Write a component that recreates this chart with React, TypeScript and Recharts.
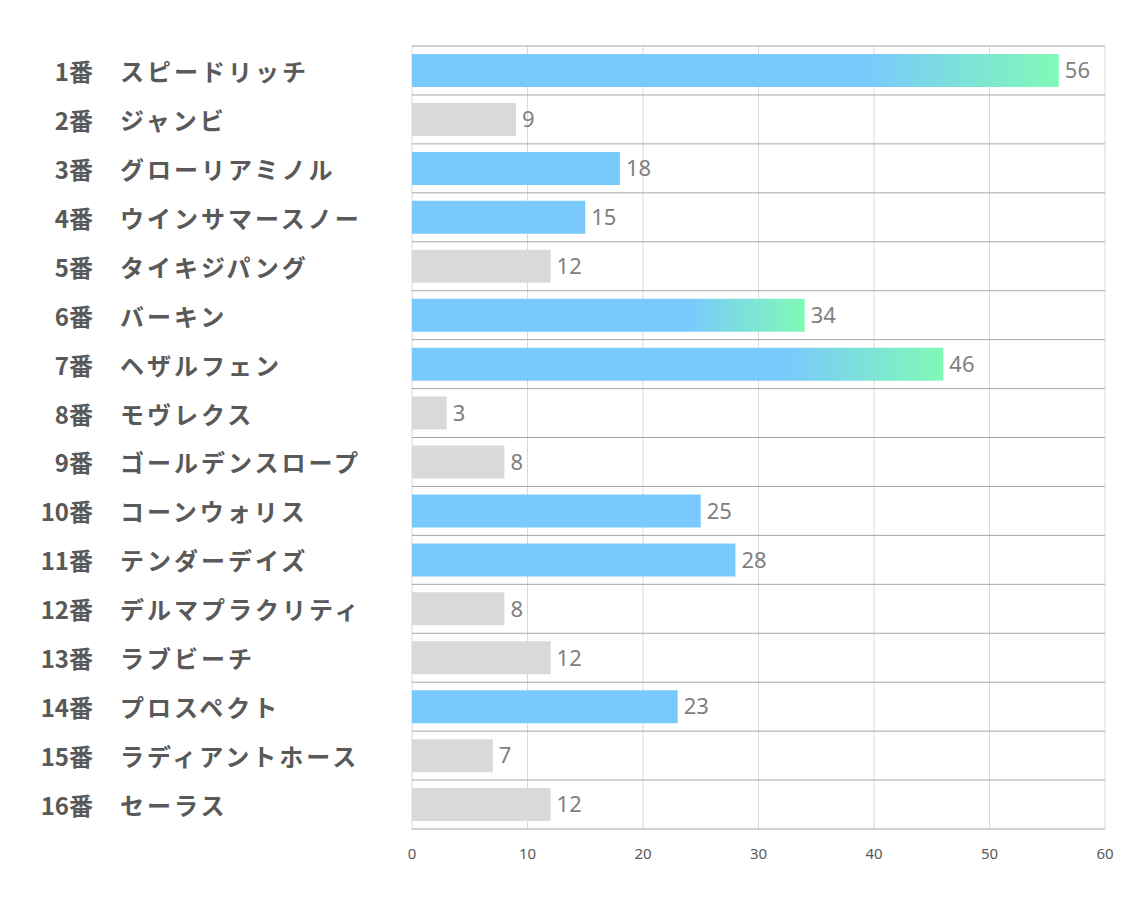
import React from 'react';
import { BarChart, Bar, XAxis, YAxis, CartesianGrid, Cell, LabelList } from 'recharts';

const numbers = ['1番', '2番', '3番', '4番', '5番', '6番', '7番', '8番', '9番', '10番', '11番', '12番', '13番', '14番', '15番', '16番'];
const horses = ['スピードリッチ', 'ジャンビ', 'グローリアミノル', 'ウインサマースノー', 'タイキジパング', 'バーキン', 'ヘザルフェン', 'モヴレクス', 'ゴールデンスロープ', 'コーンウォリス', 'テンダーデイズ', 'デルマプラクリティ', 'ラブビーチ', 'プロスペクト', 'ラディアントホース', 'セーラス'];
const votes = [56, 9, 18, 15, 12, 34, 46, 3, 8, 25, 28, 8, 12, 23, 7, 12];
const tiers = ['top', 'low', 'mid', 'mid', 'low', 'top', 'top', 'low', 'low', 'mid', 'mid', 'low', 'low', 'mid', 'low', 'low'];
const xTicks = [0, 10, 20, 30, 40, 50, 60];

const data = horses.map((name, i) => ({ name, num: numbers[i], value: votes[i], tier: tiers[i] }));

const BLUE = '#79c9fd';
const GREEN = '#80f9b6';
const GRAY = '#d9d9d9';

const fillFor = (tier: string) => (tier === 'top' ? 'url(#gradTop)' : tier === 'mid' ? BLUE : GRAY);

const NameTick = (props: any) => {
  const { y, payload } = props;
  const idx = horses.indexOf(payload.value);
  return (
    <g>
      <text x={85} y={y} textAnchor="end" dominantBaseline="central" fill="#595959" fontSize={24} fontWeight="bold" fontFamily="'Noto Sans CJK JP', sans-serif">
        {numbers[idx]}
      </text>
      <text x={112} y={y} textAnchor="start" dominantBaseline="central" fill="#595959" fontSize={24} fontWeight="bold" letterSpacing={3} fontFamily="'Noto Sans CJK JP', sans-serif">
        {payload.value}
      </text>
    </g>
  );
};

const hGen = (args: any) => {
  const off = args && args.offset ? args.offset : { top: 38, height: 783 };
  const n = horses.length;
  return Array.from({ length: n + 1 }, (_, i) => off.top + (i * off.height) / n);
};

export default function App() {
  return (
    <div style={{ width: 1126, height: 880 }}>
      <BarChart width={1126} height={880} data={data} layout="vertical" margin={{ top: 38, right: 29, left: 0, bottom: 29 }}>
        <defs>
          <linearGradient id="gradTop" x1="0" y1="0" x2="1" y2="0">
            <stop offset="0" stopColor={BLUE} />
            <stop offset="0.7" stopColor={BLUE} />
            <stop offset="1" stopColor={GREEN} />
          </linearGradient>
        </defs>
        <CartesianGrid horizontal={false} stroke="#d9d9d9" />
        <CartesianGrid vertical={false} stroke="#a6a6a6" horizontalCoordinatesGenerator={hGen} />
        <XAxis
          type="number"
          domain={[0, 60]}
          ticks={xTicks}
          axisLine={false}
          tickLine={false}
          tickMargin={13}
          tick={{ fontSize: 15, fill: '#595959', fontFamily: "'Noto Sans', sans-serif" }}
        />
        <YAxis type="category" dataKey="name" width={404} axisLine={false} tickLine={false} tick={<NameTick />} interval={0} />
        <Bar dataKey="value" barSize={33} isAnimationActive={false}>
          {data.map((d, i) => (
            <Cell key={i} fill={fillFor(d.tier)} />
          ))}
          <LabelList dataKey="value" position="right" offset={6} fill="#7f7f7f" fontSize={22} fontFamily="'Noto Sans', sans-serif" />
        </Bar>
      </BarChart>
    </div>
  );
}
